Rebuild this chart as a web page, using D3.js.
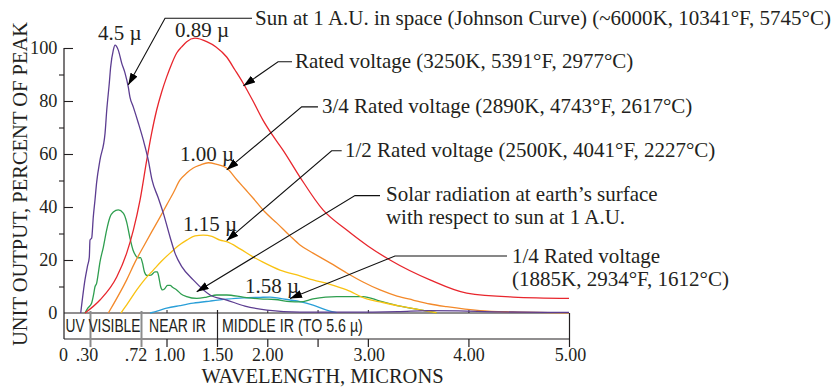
<!DOCTYPE html>
<html><head><meta charset="utf-8">
<script src="https://cdn.jsdelivr.net/npm/d3@7"></script>
<style>
html,body{margin:0;padding:0;background:#fff;}
svg{display:block;}
text{font-family:"Liberation Serif","Times New Roman",serif;fill:#231f20;}
</style></head><body>
<svg id="c" width="837" height="387"></svg>
<script>
// ---- data: [wavelength (microns), percent of peak] ----
const sunCurve = [[0.193,0],[0.242,12.5],[0.271,17.7],[0.292,21.1],[0.300,27.5],[0.314,28.3],[0.327,36.2],[0.341,42.6],[0.355,49.4],[0.382,57.7],[0.424,67.9],[0.438,76.6],[0.459,86.8],[0.470,92.8],[0.492,99.2],[0.506,101.1],[0.533,99.2],[0.561,94.3],[0.588,90.6],[0.615,85.3],[0.629,81.5],[0.657,77.7],[0.698,71.7],[0.745,65.3],[0.80,57.7],[0.841,50.2],[0.91,43.4],[0.965,37.7],[1.035,28.7],[1.084,22.6],[1.153,17.4],[1.265,12.5],[1.431,6.8],[1.596,4.9],[1.778,2.6],[1.997,1.1],[2.325,0.3],[2.8,0.3],[3.3,0.5],[3.6,0.9],[3.9,0.8],[4.3,0.4],[5.0,0.2]];
const ratedCurve = [[0.242,0],[0.382,4.9],[0.52,13.6],[0.602,22.6],[0.657,31.3],[0.712,42.6],[0.783,57.7],[0.837,67.9],[0.892,76.6],[0.947,83.4],[1.002,89.1],[1.051,94],[1.101,98.1],[1.15,100.4],[1.2,102.4],[1.282,103.7],[1.398,102.4],[1.49,100.4],[1.596,96.6],[1.679,91.7],[1.759,86.8],[1.858,80],[1.957,72.8],[2.057,66.8],[2.156,61.5],[2.325,51.3],[2.554,38.9],[2.79,31.3],[3.0,25.3],[3.22,20],[3.618,12.5],[3.983,7.5],[4.443,6.0],[5.0,5.5]];
const rated34Curve = [[0.451,0],[0.602,12.5],[0.671,19.2],[0.745,24.9],[0.837,30.6],[0.929,36.2],[1.002,40.8],[1.067,45.3],[1.134,50.2],[1.2,52.8],[1.265,54.7],[1.332,55.8],[1.414,56.7],[1.49,56.2],[1.596,54.7],[1.699,50.2],[1.788,46.4],[1.858,43.4],[1.977,38.1],[2.093,34],[2.226,29.1],[2.325,25.7],[2.455,22.6],[2.624,18.9],[2.79,15.1],[2.952,11.7],[3.121,8.7],[3.29,6.4],[3.449,4.9],[3.618,3.4],[3.784,2.4],[4.115,0.9],[4.443,0.4],[5.0,0.1]];
const rated12Curve = [[0.555,0],[0.613,3.8],[0.685,8.7],[0.764,12.8],[0.855,16.2],[0.947,19.6],[1.035,22.6],[1.114,25.3],[1.2,27.5],[1.282,29.1],[1.364,29.4],[1.45,28.9],[1.53,27.5],[1.596,26.9],[1.729,24.2],[1.858,21.2],[1.957,19.2],[2.126,16.2],[2.325,14],[2.455,12.5],[2.624,10.8],[2.79,8.7],[2.989,5.3],[3.121,4.2],[3.32,2.6],[3.518,1.2],[3.684,0.1]];
const solarSurfaceCurve = [[0.242,0],[0.277,1.9],[0.314,3.8],[0.329,6.8],[0.341,9.9],[0.355,11.3],[0.366,14.3],[0.382,19.2],[0.41,24.9],[0.437,31.3],[0.465,36.2],[0.492,38.1],[0.533,38.9],[0.574,37.7],[0.602,34.3],[0.629,28.3],[0.654,23.8],[0.679,21.5],[0.698,20.8],[0.716,20.9],[0.736,18.9],[0.758,15.5],[0.786,14.2],[0.83,14.3],[0.874,15.5],[0.899,15.5],[0.918,13.2],[0.934,10.2],[0.956,8.7],[0.978,9.1],[1.01,10.4],[1.035,10.4],[1.064,9.6],[1.101,8.7],[1.144,7.2],[1.2,6.2],[1.299,5.5],[1.398,6.0],[1.497,6.8],[1.596,6.8],[1.759,6.0],[1.928,5.3],[2.077,5.1],[2.226,4.3],[2.325,4.2],[2.455,5.3],[2.69,6.2],[2.952,6.2],[3.121,4.5],[3.32,2.6],[3.518,1.2],[3.684,0.1]];
const rated14Curve = [[0.819,0],[0.906,0.8],[1.002,1.8],[1.134,2.8],[1.265,3.7],[1.431,4.5],[1.596,5.2],[1.759,5.7],[1.928,5.9],[2.027,6.0],[2.126,5.5],[2.226,4.9],[2.325,4.3],[2.455,3.0],[2.591,1.1],[2.69,0.1]];

const seriesNames = ["1/4 Rated voltage","Solar radiation at earth's surface","1/2 Rated voltage","3/4 Rated voltage","Rated voltage","Sun at 1 A.U. in space"];
const seriesData = [rated14Curve, solarSurfaceCurve, rated12Curve, rated34Curve, ratedCurve, sunCurve];
const seriesColors = ["#2a9fd8","#2e9e4f","#f9c212","#f3892a","#e8262d","#5c3d91"];

const xTicks = [0,0.3,0.72,1,1.5,2,2.5,3,4,5];
const xTickLabels = ["0",".30",".72","1.00","1.50","2.00","","3.00","4.00","5.00"];
const xTopTicks = [1,2,2.5,3,4];
const yMajorTicks = [0,20,40,60,80,100];
const yMinorTicks = [10,30,50,70,90];

const bandLabels = ["UV VISIBLE","NEAR IR","MIDDLE IR (TO 5.6 \u00b5)"];
const peakLabels = ["4.5 \u00b5","0.89 \u00b5","1.00 \u00b5","1.15 \u00b5","1.58 \u00b5"];
const peakLabelAt = [[0.366,103.0],[1.084,104.3],[1.134,57.5],[1.163,30.8],[1.778,7.7]];

// annotations: text lines, text anchor [µ,%], line end [µ,%], elbow [µ,%], arrow tip [µ,%]
const annTexts = [
  ["Sun at 1 A.U. in space (Johnson Curve) (~6000K, 10341\u00b0F, 5745\u00b0C)"],
  ["Rated voltage (3250K, 5391\u00b0F, 2977\u00b0C)"],
  ["3/4 Rated voltage (2890K, 4743\u00b0F, 2617\u00b0C)"],
  ["1/2 Rated voltage (2500K, 4041\u00b0F, 2227\u00b0C)"],
  ["Solar radiation at earth\u2019s surface","with respect to sun at 1 A.U."],
  ["1/4 Rated voltage","(1885K, 2934\u00b0F, 1612\u00b0C)"]
];
const annTextAt = [[1.878,108.7],[2.276,92.5],[2.544,75.5],[2.773,58.9],[3.180,42.3],[4.433,18.9]];
const annLineEnd = [[1.848,111.2],[2.246,94.8],[2.504,77.8],[2.740,61.2],[3.121,44.3],[4.384,21.5]];
const annElbow = [[0.984,111.2],[2.107,94.8],[2.342,77.8],[2.640,61.2],[2.872,44.3],[3.270,21.5]];
const annTip = [[0.615,86.0],[1.762,85.7],[1.596,54.0],[1.596,27.3],[1.299,8.0],[2.226,5.5]];

// ---- drawing ----
const svg = d3.select("#c");
const x = d3.scaleLinear().domain([0,0.3,0.72,1,1.5,5]).range([64,90,141,166.5,217,569]);
const y = d3.scaleLinear().domain([0,100]).range([313,48]);
const bandBottom = 339;
const ink = "#231f20";

svg.append("defs").append("marker")
  .attr("id","ah").attr("markerUnits","userSpaceOnUse")
  .attr("viewBox","0 0 12 8").attr("refX",12).attr("refY",4)
  .attr("markerWidth",12).attr("markerHeight",8).attr("orient","auto")
  .append("path").attr("d","M0,0L12,4L0,8Z").attr("fill","#000");

// y axis: labels, major ticks inside, minor ticks outside
const gyLab = svg.append("g").attr("transform",`translate(${x(0)},0)`)
  .call(d3.axisLeft(y).tickValues(yMajorTicks).tickSize(0).tickPadding(6.5).tickFormat(d=>String(d)));
gyLab.select(".domain").remove();
gyLab.selectAll("text").style("font-size","18.3px").style("font-family","Liberation Serif").attr("fill",ink);
const gyMaj = svg.append("g").attr("transform",`translate(${x(0)},0)`)
  .call(d3.axisRight(y).tickValues(yMajorTicks.filter(v=>v>0)).tickSize(9).tickFormat(""));
gyMaj.select(".domain").remove();
gyMaj.selectAll("line").attr("stroke",ink).attr("stroke-width",1.1);
const gyMin = svg.append("g").attr("transform",`translate(${x(0)},0)`)
  .call(d3.axisLeft(y).tickValues(yMinorTicks).tickSize(5).tickFormat(""));
gyMin.select(".domain").remove();
gyMin.selectAll("line").attr("stroke",ink).attr("stroke-width",1.1);
svg.append("line").attr("x1",x(0)).attr("x2",x(0)).attr("y1",y(100)).attr("y2",bandBottom).attr("stroke",ink).attr("stroke-width",1.2);

// band box
svg.append("line").attr("x1",x(0)).attr("x2",x(5)).attr("y1",y(0)).attr("y2",y(0)).attr("stroke",ink).attr("stroke-width",1.2);
svg.append("line").attr("x1",x(0)).attr("x2",x(5)).attr("y1",bandBottom).attr("y2",bandBottom).attr("stroke",ink).attr("stroke-width",1.2);

// x axis
const labelNudge = {0:-1, 0.3:-3.5, 0.72:-5.5, 1:2.5, 3:1, 5:1};
const gx = svg.append("g").attr("transform",`translate(0,${bandBottom})`)
  .call(d3.axisBottom(x).tickValues(xTicks).tickSize(7).tickPadding(2)
    .tickFormat((d,i)=>xTickLabels[i]));
gx.select(".domain").remove();
gx.selectAll("text").style("font-size","18px").style("font-family","Liberation Serif").attr("fill",ink)
  .attr("dx",d=>labelNudge[d]||0);
gx.selectAll(".tick line").attr("stroke",ink).attr("stroke-width",1.2)
  .attr("y1",d=> (d===0.3||d===0.72) ? -28 : (d===1.5 ? -29 : (d===5 ? -26 : 0)))
  .attr("y2",d=> d===0 ? 0 : 8)
  .attr("stroke",d=> (d===0.3||d===0.72) ? "#8c8c8c" : ink)
  .attr("stroke-width",d=> (d===0.3||d===0.72) ? 2 : 1.2);
const gxt = svg.append("g").attr("transform",`translate(0,${y(0)})`)
  .call(d3.axisTop(x).tickValues(xTopTicks).tickSize(3).tickFormat(""));
gxt.select(".domain").remove();
gxt.selectAll("line").attr("stroke",ink);

// band labels (condensed by horizontal scale to fit their bands)
const bandStarts = [x(0)+1.5, x(0.72)+8, x(1.5)+5];
const bandLens = [75, 57, 141];
svg.selectAll(".band").data(bandLabels).join("text").attr("class","band")
  .style("font-family","'Liberation Sans',Arial,sans-serif")
  .style("font-size","18px").text(d=>d)
  .each(function(d,i){
    const w = this.getComputedTextLength();
    d3.select(this).attr("transform",`translate(${bandStarts[i]},${bandBottom-7.5}) scale(${bandLens[i]/w},1)`);
  });

// curves
const line = d3.line().x(d=>x(d[0])).y(d=>y(d[1])).curve(d3.curveMonotoneX);
svg.selectAll(".curve").data(seriesData).join("path").attr("class","curve")
  .attr("d",line).attr("fill","none")
  .attr("stroke",(d,i)=>seriesColors[i]).attr("stroke-width",1.3);

// peak labels
svg.selectAll(".peak").data(peakLabels).join("text").attr("class","peak")
  .attr("x",(d,i)=>x(peakLabelAt[i][0])).attr("y",(d,i)=>y(peakLabelAt[i][1]))
  .style("font-size","21px").text(d=>d);

// annotations
annTexts.forEach((lines,i)=>{
  const p = [annLineEnd[i], annElbow[i], annTip[i]].map(q=>[x(q[0]),y(q[1])]);
  svg.append("path").attr("d",d3.line()(p)).attr("fill","none")
    .attr("stroke","#111").attr("stroke-width",1.1).attr("marker-end","url(#ah)");
  const t = svg.append("text").attr("x",x(annTextAt[i][0])).attr("y",y(annTextAt[i][1])).style("font-size","21px");
  lines.forEach((s,j)=>t.append("tspan").attr("x",x(annTextAt[i][0])).attr("dy",j?23:0).text(s));
});

// axis titles
svg.append("text").attr("x",(x(0)+x(5))/2+6).attr("y",382.5).attr("text-anchor","middle")
  .style("font-size","20.5px").text("WAVELENGTH, MICRONS");
svg.append("text").attr("transform","translate(27,184) rotate(-90)").attr("text-anchor","middle")
  .style("font-size","20.5px").text("UNIT OUTPUT, PERCENT OF PEAK");
</script>
</body></html>
